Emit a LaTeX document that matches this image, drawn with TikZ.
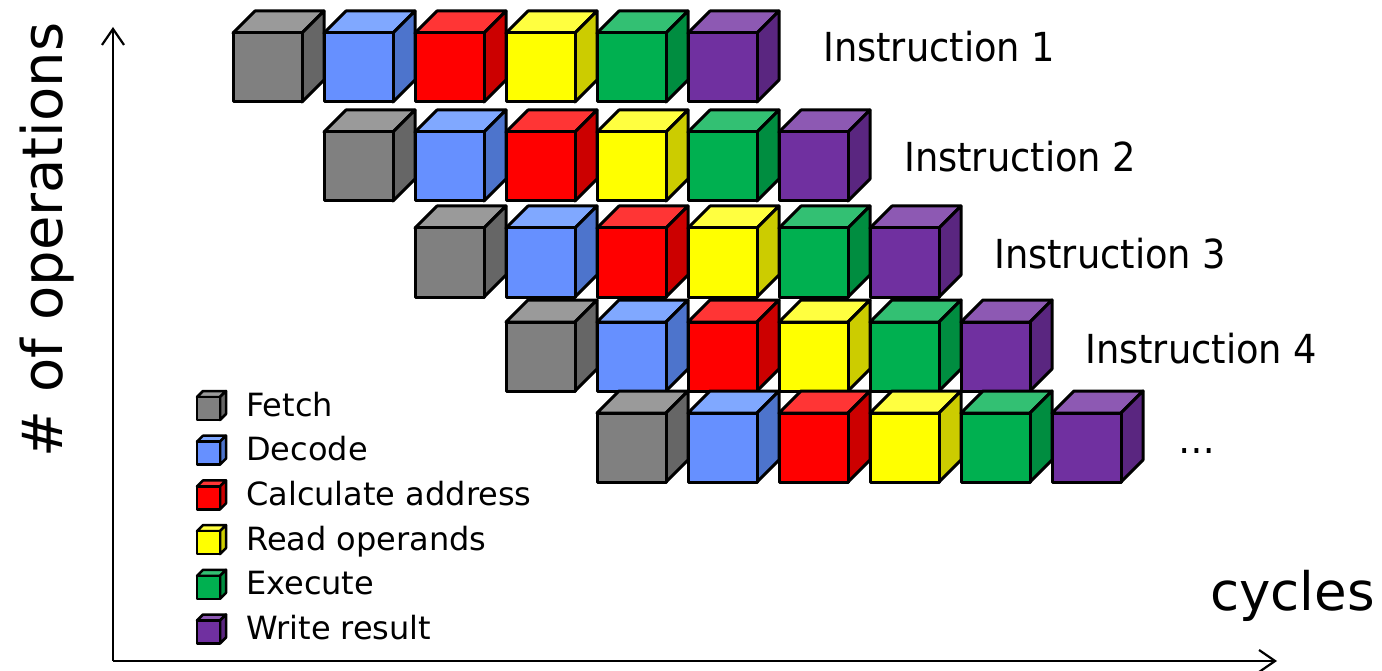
\documentclass[tikz,border=0pt]{standalone}
\usepackage{fontspec}
\setmainfont{DejaVu Sans}
\newfontfamily\instrfont[FakeStretch=0.92]{DejaVu Sans}
\usetikzlibrary{arrows.meta}
\definecolor{grF}{HTML}{808080}\definecolor{grT}{HTML}{9A9A9A}\definecolor{grS}{HTML}{666666}
\definecolor{blF}{HTML}{6690FF}\definecolor{blT}{HTML}{80A8FF}\definecolor{blS}{HTML}{4D74CC}
\definecolor{rdF}{HTML}{FF0000}\definecolor{rdT}{HTML}{FF3535}\definecolor{rdS}{HTML}{CC0000}
\definecolor{ylF}{HTML}{FFFF00}\definecolor{ylT}{HTML}{FFFF40}\definecolor{ylS}{HTML}{CCCC00}
\definecolor{gnF}{HTML}{00B050}\definecolor{gnT}{HTML}{33C073}\definecolor{gnS}{HTML}{008D40}
\definecolor{puF}{HTML}{7030A0}\definecolor{puT}{HTML}{8D59B3}\definecolor{puS}{HTML}{5A2680}
\newcommand\mycube[6]{% x y size depth colour linewidth
  \draw[line width=#6, line join=round, fill=#5T] (#1,#2) -- ++(#4,-#4) -- ++(#3,0) -- ++(-#4,#4) -- cycle;
  \draw[line width=#6, line join=round, fill=#5S] (#1+#3,#2) -- ++(#4,-#4) -- ++(0,#3) -- ++(-#4,#4) -- cycle;
  \draw[line width=#6, line join=round, fill=#5F] (#1,#2) rectangle ++(#3,#3);
}
\tikzset{
  axis/.style={line width=2.4pt, -{Straight Barb[length=16pt,width=22pt,line width=2.2pt]}},
  instr/.style={anchor=base west, font=\instrfont\fontsize{40}{44}\selectfont, inner sep=0pt},
  legtext/.style={anchor=base west, font=\fontsize{32}{36}\selectfont, inner sep=0pt},
}
\begin{document}
\begin{tikzpicture}[x=1pt,y=-1pt]
\useasboundingbox (0,0) rectangle (1382,671);
% pipeline cubes
\foreach \r/\ty in {0/33,1/132,2/228,3/322,4/413}{
  \foreach \i/\c in {0/gr,1/bl,2/rd,3/yl,4/gn,5/pu}{
    \pgfmathsetmacro\xx{233+91*(\r+\i)}
    \mycube{\xx}{\ty}{69}{22}{\c}{3pt}
  }
}
% instruction labels
\node[instr] (i1) at (823,62) {Instruction 1};
\node[instr] (i2) at (904,172) {Instruction 2};
\node[instr] (i3) at (994,269) {Instruction 3};
\node[instr] (i4) at (1085,363) {Instruction 4};
\node[instr] (dots) at (1178,453) {…};
% legend
\foreach \k/\c/\t in {0/gr/Fetch,1/bl/Decode,2/rd/Calculate address,3/yl/Read operands,4/gn/Execute,5/pu/Write result}{
  \pgfmathsetmacro\yy{397+44.7*\k}
  \mycube{197}{\yy}{23}{6}{\c}{2.5pt}
  \node[legtext] (leg\k) at (246,\yy+19) {\t};
}
% axes
\coordinate (o) at (113,661);
\coordinate (ytip) at (113,27);
\coordinate (xtip) at (1277,661);
\draw[axis] (o) -- (ytip);
\draw[axis] (o) -- (xtip);
\node[rotate=90, font=\fontsize{56}{60}\selectfont, inner sep=0pt] (ylab) at (47,240) {\# of operations};
\node[anchor=base west, font=\fontsize{53}{56}\selectfont, inner sep=0pt] (xlab) at (1210,610) {cycles};
\end{tikzpicture}
\end{document}
